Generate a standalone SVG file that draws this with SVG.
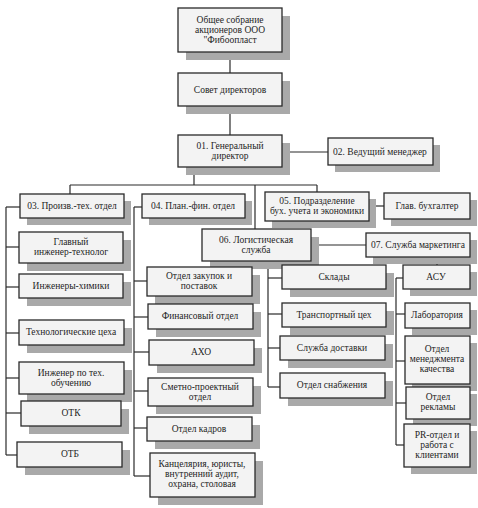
<svg xmlns="http://www.w3.org/2000/svg" width="478" height="508" viewBox="0 0 478 508">
<style>
.sh{fill:#a9a9a9;stroke:none}
.bx{fill:#f3f3f3;stroke:#2a2a2a;stroke-width:1.3}
text{font-family:"Liberation Serif","Times New Roman",serif;font-size:9.5px;fill:#1e1e1e;text-anchor:middle}
.cn line{stroke:#2a2a2a;stroke-width:1.2}
</style>
<rect width="478" height="508" fill="#ffffff"/>
<g class="cn" id="connectors">
<line x1="230" y1="52" x2="230" y2="73"/>
<line x1="230" y1="106" x2="230" y2="135"/>
<line x1="282" y1="152" x2="328" y2="152"/>
<line x1="194" y1="167" x2="194" y2="185"/>
<line x1="70" y1="185" x2="317" y2="185"/>
<line x1="70" y1="185" x2="70" y2="194"/>
<line x1="317" y1="185" x2="317" y2="192"/>
<line x1="255" y1="185" x2="255" y2="229"/>
<line x1="369" y1="206" x2="384" y2="206"/>
<line x1="311" y1="245" x2="366" y2="245"/>
<line x1="437" y1="257" x2="437" y2="265"/>
<line x1="6" y1="207" x2="6" y2="455"/>
<line x1="6" y1="207" x2="20" y2="207"/>
<line x1="6" y1="247" x2="19" y2="247"/>
<line x1="6" y1="287" x2="19" y2="287"/>
<line x1="6" y1="333" x2="19" y2="333"/>
<line x1="6" y1="378" x2="19" y2="378"/>
<line x1="6" y1="413" x2="21" y2="413"/>
<line x1="6" y1="455" x2="17" y2="455"/>
<line x1="134" y1="207" x2="134" y2="476"/>
<line x1="134" y1="207" x2="142" y2="207"/>
<line x1="134" y1="281" x2="147" y2="281"/>
<line x1="134" y1="317" x2="148" y2="317"/>
<line x1="134" y1="352" x2="149" y2="352"/>
<line x1="134" y1="391" x2="148" y2="391"/>
<line x1="134" y1="428" x2="147" y2="428"/>
<line x1="134" y1="476" x2="150" y2="476"/>
<line x1="268" y1="261" x2="268" y2="387"/>
<line x1="268" y1="278" x2="282" y2="278"/>
<line x1="268" y1="314" x2="282" y2="314"/>
<line x1="268" y1="348" x2="280" y2="348"/>
<line x1="268" y1="387" x2="280" y2="387"/>
<line x1="396" y1="278" x2="396" y2="445"/>
<line x1="396" y1="278" x2="403" y2="278"/>
<line x1="396" y1="314" x2="405" y2="314"/>
<line x1="396" y1="361" x2="405" y2="361"/>
<line x1="396" y1="403" x2="406" y2="403"/>
<line x1="396" y1="445" x2="404" y2="445"/>
</g>
<g id="n-sobranie"><rect class="sh" x="186" y="16" width="104" height="44"/><rect class="bx" x="178" y="8" width="104" height="44"/><text x="230" y="23">Общее собрание</text><text x="230" y="33">акционеров ООО</text><text x="230" y="43">"Фибоопласт</text></g>
<g id="n-sovet"><rect class="sh" x="186" y="81" width="104" height="33"/><rect class="bx" x="178" y="73" width="104" height="33"/><text x="230" y="93">Совет директоров</text></g>
<g id="n-01"><rect class="sh" x="186" y="143" width="104" height="32"/><rect class="bx" x="178" y="135" width="104" height="32"/><text x="230" y="149">01. Генеральный</text><text x="230" y="159">директор</text></g>
<g id="n-02"><rect class="sh" x="335" y="145" width="105" height="27"/><rect class="bx" x="328" y="138" width="105" height="27"/><text x="380" y="155">02. Ведущий менеджер</text></g>
<g id="n-03"><rect class="sh" x="27" y="201" width="104" height="24"/><rect class="bx" x="20" y="194" width="104" height="24"/><text x="72" y="209">03. Произв.-тех. отдел</text></g>
<g id="n-04"><rect class="sh" x="149" y="201" width="103" height="24"/><rect class="bx" x="142" y="194" width="103" height="24"/><text x="193" y="209">04. План.-фин. отдел</text></g>
<g id="n-05"><rect class="sh" x="272" y="199" width="104" height="29"/><rect class="bx" x="265" y="192" width="104" height="29"/><text x="317" y="204">05. Подразделение</text><text x="317" y="214">бух. учета и экономики</text></g>
<g id="n-glavbuh"><rect class="sh" x="391" y="200" width="86" height="26"/><rect class="bx" x="384" y="193" width="86" height="26"/><text x="427" y="209">Глав. бухгалтер</text></g>
<g id="n-06"><rect class="sh" x="210" y="237" width="109" height="32"/><rect class="bx" x="202" y="229" width="109" height="32"/><text x="256" y="243">06. Логистическая</text><text x="256" y="253">служба</text></g>
<g id="n-07"><rect class="sh" x="373" y="240" width="104" height="24"/><rect class="bx" x="366" y="233" width="104" height="24"/><text x="418" y="248">07. Служба маркетинга</text></g>
<g id="n-glinzh"><rect class="sh" x="27" y="240" width="104" height="31"/><rect class="bx" x="19" y="232" width="104" height="31"/><text x="71" y="245">Главный</text><text x="71" y="255">инженер-технолог</text></g>
<g id="n-himiki"><rect class="sh" x="27" y="282" width="104" height="24"/><rect class="bx" x="19" y="274" width="104" height="24"/><text x="71" y="289">Инженеры-химики</text></g>
<g id="n-ceha"><rect class="sh" x="27" y="328" width="105" height="25"/><rect class="bx" x="19" y="320" width="105" height="25"/><text x="71" y="335">Технологические цеха</text></g>
<g id="n-obuch"><rect class="sh" x="27" y="370" width="105" height="32"/><rect class="bx" x="19" y="362" width="105" height="32"/><text x="71" y="376">Инженер по тех.</text><text x="71" y="386">обучению</text></g>
<g id="n-otk"><rect class="sh" x="29" y="409" width="100" height="25"/><rect class="bx" x="21" y="401" width="100" height="25"/><text x="71" y="416">ОТК</text></g>
<g id="n-otb"><rect class="sh" x="25" y="450" width="105" height="25"/><rect class="bx" x="17" y="442" width="105" height="25"/><text x="70" y="457">ОТБ</text></g>
<g id="n-zakup"><rect class="sh" x="155" y="275" width="105" height="29"/><rect class="bx" x="147" y="267" width="105" height="29"/><text x="199" y="279">Отдел закупок и</text><text x="199" y="289">поставок</text></g>
<g id="n-fin"><rect class="sh" x="156" y="312" width="105" height="25"/><rect class="bx" x="148" y="304" width="105" height="25"/><text x="200" y="319">Финансовый отдел</text></g>
<g id="n-aho"><rect class="sh" x="157" y="348" width="105" height="25"/><rect class="bx" x="149" y="340" width="105" height="25"/><text x="201" y="355">АХО</text></g>
<g id="n-smet"><rect class="sh" x="156" y="386" width="105" height="28"/><rect class="bx" x="148" y="378" width="105" height="28"/><text x="200" y="390">Сметно-проектный</text><text x="200" y="400">отдел</text></g>
<g id="n-kadr"><rect class="sh" x="155" y="425" width="105" height="24"/><rect class="bx" x="147" y="417" width="105" height="24"/><text x="199" y="432">Отдел кадров</text></g>
<g id="n-kanc"><rect class="sh" x="158" y="461" width="105" height="44"/><rect class="bx" x="150" y="453" width="105" height="44"/><text x="202" y="467">Канцелярия, юристы,</text><text x="202" y="477">внутренний аудит,</text><text x="202" y="487">охрана, столовая</text></g>
<g id="n-sklady"><rect class="sh" x="290" y="273" width="104" height="24"/><rect class="bx" x="282" y="265" width="104" height="24"/><text x="334" y="280">Склады</text></g>
<g id="n-transp"><rect class="sh" x="290" y="311" width="104" height="24"/><rect class="bx" x="282" y="303" width="104" height="24"/><text x="334" y="318">Транспортный цех</text></g>
<g id="n-dost"><rect class="sh" x="288" y="344" width="105" height="24"/><rect class="bx" x="280" y="336" width="105" height="24"/><text x="332" y="351">Служба доставки</text></g>
<g id="n-snab"><rect class="sh" x="288" y="381" width="105" height="25"/><rect class="bx" x="280" y="373" width="105" height="25"/><text x="332" y="388">Отдел снабжения</text></g>
<g id="n-asu"><rect class="sh" x="410" y="272" width="67" height="24"/><rect class="bx" x="403" y="265" width="67" height="24"/><text x="436" y="280">АСУ</text></g>
<g id="n-lab"><rect class="sh" x="412" y="310" width="65" height="25"/><rect class="bx" x="405" y="303" width="65" height="25"/><text x="437" y="318">Лаборатория</text></g>
<g id="n-omk"><rect class="sh" x="412" y="343" width="65" height="48"/><rect class="bx" x="405" y="336" width="65" height="48"/><text x="437" y="352">Отдел</text><text x="437" y="362">менеджмента</text><text x="437" y="372">качества</text></g>
<g id="n-reklama"><rect class="sh" x="413" y="394" width="64" height="32"/><rect class="bx" x="406" y="387" width="64" height="32"/><text x="438" y="400">Отдел</text><text x="438" y="410">рекламы</text></g>
<g id="n-pr"><rect class="sh" x="411" y="431" width="66" height="43"/><rect class="bx" x="404" y="424" width="66" height="43"/><text x="437" y="438">PR-отдел и</text><text x="437" y="448">работа с</text><text x="437" y="458">клиентами</text></g>
</svg>
